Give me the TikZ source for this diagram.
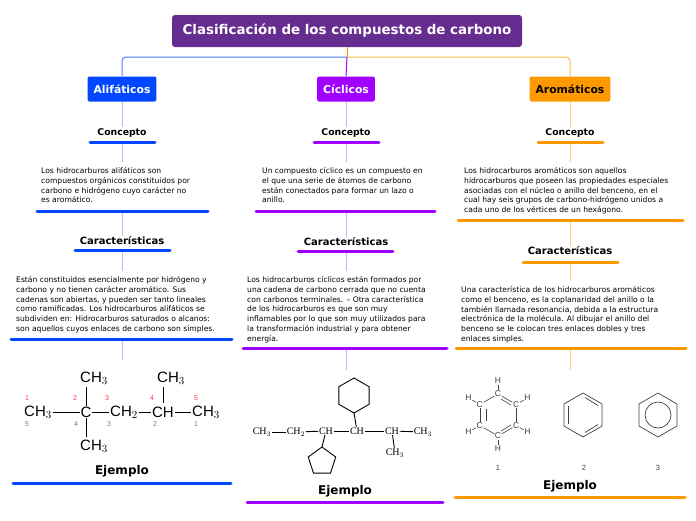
\documentclass[tikz,border=0pt]{standalone}
\usepackage{fontspec}
\setmainfont{DejaVu Sans}
\newfontfamily\chemsans{Liberation Sans}
\newfontfamily\chemserif{Liberation Serif}
\usetikzlibrary{backgrounds,calc}
\definecolor{cTitle}{HTML}{662D91}
\definecolor{cBlue}{HTML}{0047FF}
\definecolor{cPurp}{HTML}{A100FF}
\definecolor{cOrg}{HTML}{FF9900}
\definecolor{lBlue}{HTML}{A8C0FF}
\definecolor{lPurp}{HTML}{DDA6FF}
\definecolor{lOrg}{HTML}{FFCC85}
\definecolor{numR}{HTML}{FF3040}
\definecolor{numG}{HTML}{40A040}
\tikzset{
  catbox/.style={rounded corners=2pt, minimum height=25pt, inner xsep=6pt, font=\fontsize{10.8}{12}\selectfont\bfseries},
  headlbl/.style={font=\fontsize{9.3}{10}\selectfont\bfseries, inner sep=1pt},
  carlbl/.style={font=\fontsize{10}{11}\selectfont\bfseries, inner sep=1pt},
  ejlbl/.style={font=\fontsize{12}{12}\selectfont\bfseries, inner sep=1pt},
  body/.style={font=\fontsize{7.6}{9.9}\selectfont, align=left, anchor=north west, inner sep=0pt},
  uline/.style={line width=3pt, line cap=round},
  conn/.style={line width=1pt},
  bond/.style={line width=0.9pt},
  cs/.style={font=\chemsans\fontsize{15}{15}\selectfont, inner sep=0.5pt},
  cn/.style={font=\chemsans\fontsize{7}{7}\selectfont, inner sep=0pt},
  cf/.style={font=\chemserif\fontsize{10}{10}\selectfont, inner sep=0.5pt},
  hs/.style={font=\chemsans\fontsize{8.5}{8.5}\selectfont, inner sep=0.5pt, text=black!75},
  ring/.style={line width=0.7pt, black!75},
}
\begin{document}
\begin{tikzpicture}[x=1pt,y=-1pt]
\useasboundingbox (0,0) rectangle (696,520);
% title and categories
\node[fill=cTitle, text=white, rounded corners=3pt, minimum width=350pt, minimum height=32pt, font=\fontsize{13.4}{14}\selectfont\bfseries] (title) at (347,31) {Clasificación de los compuestos de carbono};
\node[catbox, fill=cBlue, text=white] (ali) at (122,89) {Alifáticos};
\node[catbox, fill=cPurp, text=white] (cic) at (346,89) {Cíclicos};
\node[catbox, fill=cOrg, text=black] (aro) at (570,89) {Aromáticos};
\coordinate (fork) at (347,57);
\draw[conn, cOrg] (title.south) -- (fork);
\draw[conn, cBlue!70, rounded corners=4pt] (fork) -| (ali.north);
\draw[conn, cPurp] (fork) -- (cic.north);
\draw[conn, cOrg!70, rounded corners=4pt] (fork) -| (aro.north);

% ---------- column 1
\node[headlbl] (c1) at (122,133) {Concepto};
\coordinate (c1a) at (90,142); \coordinate (c1b) at (155,142);
\node[body] (t1) at (41,167) {Los hidrocarburos alifáticos son\\compuestos orgánicos constituidos por\\carbono e hidrógeno cuyo carácter no\\es aromático.};
\coordinate (u1a) at (37,211); \coordinate (u1b) at (208,211);
\node[carlbl] (k1) at (122,241) {Características};
\coordinate (k1a) at (75,250); \coordinate (k1b) at (170,250);
\node[body] (s1) at (16,276) {Están constituidos esencialmente por hidrógeno y\\carbono y no tienen carácter aromático. Sus\\cadenas son abiertas, y pueden ser tanto lineales\\como ramificadas. Los hidrocarburos alifáticos se\\subdividen en: Hidrocarburos saturados o alcanos:\\son aquellos cuyos enlaces de carbono son simples.};
\coordinate (v1a) at (11,339); \coordinate (v1b) at (232,339);
\coordinate (e1top) at (122,360);
\node[ejlbl] (e1) at (122,471) {Ejemplo};
\coordinate (w1a) at (13,483); \coordinate (w1b) at (231,483);
\begin{scope}[on background layer]
\draw[conn, lBlue] (ali.south) -- (c1);
\draw[conn, lBlue] (122,142) -- (122,162);
\draw[conn, lBlue] (122,211) -- (k1);
\draw[conn, lBlue] (122,250) -- (122,271);
\draw[conn, lBlue] (122,339) -- (e1top);
\end{scope}
\draw[uline, cBlue] (c1a) -- (c1b);
\draw[uline, cBlue] (u1a) -- (u1b);
\draw[uline, cBlue] (k1a) -- (k1b);
\draw[uline, cBlue] (v1a) -- (v1b);
\draw[uline, cBlue] (w1a) -- (w1b);
% molecule 1
\node[cs] (m1) at (38,412) {CH$_3$};
\node[cs] (m2) at (86,412) {C};
\node[cs] (m3) at (124,412) {CH$_2$};
\node[cs] (m4) at (163,412) {CH};
\node[cs] (m5) at (206,412) {CH$_3$};
\node[cs] (m6) at (94,378) {CH$_3$};
\node[cs] (m7) at (94,446) {CH$_3$};
\node[cs] (m8) at (171,378) {CH$_3$};
\draw[bond] (m1) -- (m2); \draw[bond] (m2) -- (m3); \draw[bond] (m3) -- (m4); \draw[bond] (m4) -- (m5);
\draw[bond] (m2) -- (86,387); \draw[bond] (m2) -- (86,437); \draw[bond] (163,403) -- (163,387);
\foreach \x/\n in {27/1,75/2,107/3,152/4,196/5} \node[cn, text=numR] at (\x,398) {\n};
\foreach \x/\n in {27/5,76/4,109/3,155/2,196/1} \node[cn, text=numG] at (\x,424) {\n};

% ---------- column 2
\node[headlbl] (c2) at (346,133) {Concepto};
\coordinate (c2a) at (314,142); \coordinate (c2b) at (379,142);
\node[body] (t2) at (262,167) {Un compuesto cíclico es un compuesto en\\el que una serie de átomos de carbono\\están conectados para formar un lazo o\\anillo.};
\coordinate (u2a) at (256,211); \coordinate (u2b) at (435,211);
\node[carlbl] (k2) at (346,242) {Características};
\coordinate (k2a) at (298,251); \coordinate (k2b) at (393,251);
\node[body] (s2) at (247,276) {Los hidrocarburos cíclicos están formados por\\una cadena de carbono cerrada que no cuenta\\con carbonos terminales. – Otra característica\\de los hidrocarburos es que son muy\\inflamables por lo que son muy utilizados para\\la transformación industrial y para obtener\\energía.};
\coordinate (v2a) at (243,348); \coordinate (v2b) at (447,348);
\coordinate (e2top) at (346,370);
\node[ejlbl] (e2) at (345,491) {Ejemplo};
\coordinate (w2a) at (247,502); \coordinate (w2b) at (443,502);
\begin{scope}[on background layer]
\draw[conn, lPurp] (cic.south) -- (c2);
\draw[conn, lPurp] (346,142) -- (346,162);
\draw[conn, lPurp] (346,211) -- (k2);
\draw[conn, lPurp] (346,251) -- (346,271);
\draw[conn, lPurp] (346,348) -- (e2top);
\end{scope}
\draw[uline, cPurp] (c2a) -- (c2b);
\draw[uline, cPurp] (u2a) -- (u2b);
\draw[uline, cPurp] (k2a) -- (k2b);
\draw[uline, cPurp] (v2a) -- (v2b);
\draw[uline, cPurp] (w2a) -- (w2b);
% molecule 2
\node[cf] (n1) at (262,432) {CH$_3$};
\node[cf] (n2) at (296,432) {CH$_2$};
\node[cf] (n3) at (326,431) {CH};
\node[cf] (n4) at (357,431) {CH};
\node[cf] (n5) at (392,431) {CH};
\node[cf] (n6) at (423,432) {CH$_3$};
\node[cf] (n7) at (395,453) {CH$_3$};
\draw[bond] (n1) -- (n2); \draw[bond] (n2) -- (n3); \draw[bond] (n3) -- (n4); \draw[bond] (n4) -- (n5); \draw[bond] (n5) -- (n6);
\draw[bond] (n5) -- (n7);
\draw[bond] (354,413) -- (n4);
\draw[bond] (354,378) -- ++(30:17.5) -- ++(90:17.5) -- ++(150:17.5) -- ++(-150:17.5) -- ++(-90:17.5) -- cycle;
\draw[bond] (n3) -- (322,447);
\draw[bond] (322,447) -- ++(36:17) -- ++(108:17) -- ++(180:17) -- ++(-108:17) -- cycle;

% ---------- column 3
\node[headlbl] (c3) at (570,133) {Concepto};
\coordinate (c3a) at (538,142); \coordinate (c3b) at (603,142);
\node[body] (t3) at (464,167) {Los hidrocarburos aromáticos son aquellos\\hidrocarburos que poseen las propiedades especiales\\asociadas con el núcleo o anillo del benceno, en el\\cual hay seis grupos de carbono-hidrógeno unidos a\\cada uno de los vértices de un hexágono.};
\coordinate (u3a) at (458,220); \coordinate (u3b) at (683,220);
\node[carlbl] (k3) at (570,251) {Características};
\coordinate (k3a) at (523,262); \coordinate (k3b) at (618,262);
\node[body] (s3) at (461,286) {Una característica de los hidrocarburos aromáticos\\como el benceno, es la coplanaridad del anillo o la\\también llamada resonancia, debida a la estructura\\electrónica de la molécula. Al dibujar el anillo del\\benceno se le colocan tres enlaces dobles y tres\\enlaces simples.};
\coordinate (v3a) at (456,348); \coordinate (v3b) at (686,348);
\coordinate (e3top) at (570,370);
\node[ejlbl] (e3) at (570,486) {Ejemplo};
\coordinate (w3a) at (455,497); \coordinate (w3b) at (685,497);
\begin{scope}[on background layer]
\draw[conn, lOrg] (aro.south) -- (c3);
\draw[conn, lOrg] (570,142) -- (570,162);
\draw[conn, lOrg] (570,220) -- (k3);
\draw[conn, lOrg] (570,262) -- (570,281);
\draw[conn, lOrg] (570,348) -- (e3top);
\end{scope}
\draw[uline, cOrg] (c3a) -- (c3b);
\draw[uline, cOrg] (u3a) -- (u3b);
\draw[uline, cOrg] (k3a) -- (k3b);
\draw[uline, cOrg] (v3a) -- (v3b);
\draw[uline, cOrg] (w3a) -- (w3b);
% benzene 1
\foreach \i in {0,...,5} {
  \node[hs] (bc\i) at ($(498,415)+(90+60*\i:-21)$) {C};
  \node[hs] (bh\i) at ($(498,415)+(90+60*\i:-34)$) {H};
}
\foreach \i/\j in {0/1,1/2,2/3,3/4,4/5,5/0} \draw[ring, line width=0.6pt] (bc\i) -- (bc\j);
\foreach \i in {0,...,5} \draw[ring, line width=0.6pt] (bc\i) -- (bh\i);
\draw[ring, line width=0.6pt] (501,399) -- (511,405);
\draw[ring, line width=0.6pt] (511,425) -- (501,431);
\draw[ring, line width=0.6pt] (486,409) -- (486,421);
% benzene 2
\draw[ring] (583,393) -- ++(30:22) -- ++(90:22) -- ++(150:22) -- ++(-150:22) -- ++(-90:22) -- cycle;
\draw[ring] (585,397.5) -- (598,405.5);
\draw[ring] (598,424.5) -- (585,432.5);
\draw[ring] (568,406) -- (568,424);
% benzene 3
\draw[ring] (658,393) -- ++(30:22) -- ++(90:22) -- ++(150:22) -- ++(-150:22) -- ++(-90:22) -- cycle;
\draw[ring] (658,415) circle (13);
\node[hs, font=\chemsans\fontsize{7.5}{7.5}\selectfont] (l1) at (498,468) {1};
\node[hs, font=\chemsans\fontsize{7.5}{7.5}\selectfont] (l2) at (584,468) {2};
\node[hs, font=\chemsans\fontsize{7.5}{7.5}\selectfont] (l3) at (658,468) {3};
\end{tikzpicture}
\end{document}
